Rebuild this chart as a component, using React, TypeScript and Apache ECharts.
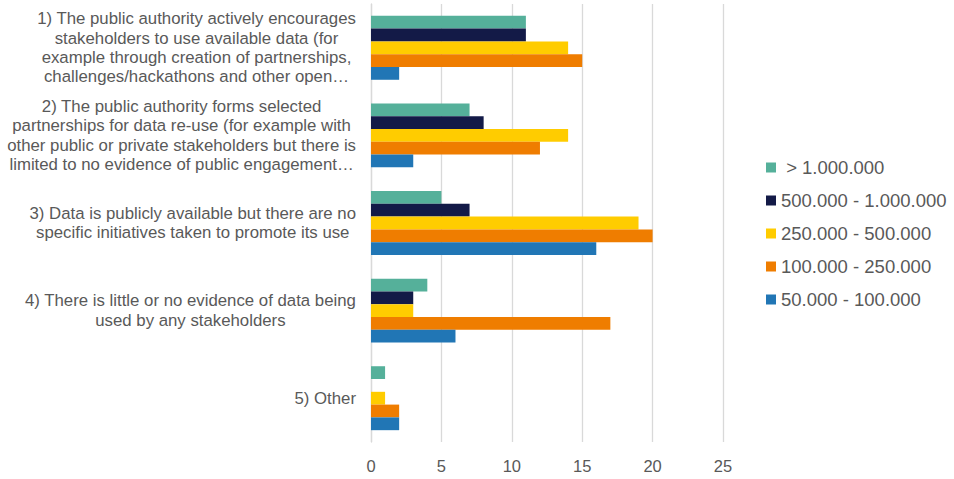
import React, { useEffect, useRef } from "react";
import * as echarts from "echarts";

const categories: string[][] = [
  [
    "1) The public authority actively encourages",
    "stakeholders to use available data (for",
    "example through creation of partnerships,",
    "challenges/hackathons and other open…",
  ],
  [
    "2) The public authority forms selected",
    "partnerships for data re-use (for example with",
    "other public or private stakeholders but there is",
    "limited to no evidence of public engagement…",
  ],
  [
    "3) Data is publicly available but there are no",
    "specific initiatives taken to promote its use",
  ],
  [
    "4) There is little or no evidence of data being",
    "used by any stakeholders",
  ],
  ["5) Other"],
];

const seriesNames = [
  " > 1.000.000",
  "500.000 - 1.000.000",
  "250.000 - 500.000",
  "100.000 - 250.000",
  "50.000 - 100.000",
];
const over1M = [11, 7, 5, 4, 1];
const from500kTo1M = [11, 8, 7, 3, 0];
const from250kTo500k = [14, 14, 19, 3, 1];
const from100kTo250k = [15, 12, 20, 17, 2];
const from50kTo100k = [2, 3, 16, 6, 2];
const seriesValues = [over1M, from500kTo1M, from250kTo500k, from100kTo250k, from50kTo100k];
const colors = ["#55B09A", "#131A47", "#FFCC00", "#EF7D00", "#2176B5"];
const xTicks = [0, 5, 10, 15, 20, 25];

const FONT = "'Liberation Sans', Arial, sans-serif";
const TEXT = "#595959";

export default function App() {
  const ref = useRef<HTMLDivElement>(null);
  useEffect(() => {
    if (!ref.current) return;
    const chart = echarts.init(ref.current, undefined, { renderer: "svg" });
    const catKeys = categories.map((c) => c.join("\n"));
    chart.setOption({
      animation: false,
      backgroundColor: "#ffffff",
      grid: { left: 371, right: 231, top: 4, bottom: 37, containLabel: false },
      legend: {
        orient: "vertical",
        left: 761,
        top: 153,
        itemWidth: 10,
        itemHeight: 10,
        itemGap: 14,
        icon: "rect",
        textStyle: { fontFamily: FONT, fontSize: 18.5, color: TEXT },
        data: seriesNames,
      },
      xAxis: {
        type: "value",
        min: xTicks[0],
        max: xTicks[xTicks.length - 1],
        interval: 5,
        axisLine: { show: false },
        axisTick: { show: false },
        splitLine: { show: true, lineStyle: { color: "#D9D9D9", width: 1.3 } },
        axisLabel: { fontFamily: FONT, fontSize: 16.5, color: TEXT, margin: 15 },
      },
      yAxis: {
        type: "category",
        inverse: true,
        data: catKeys,
        axisLine: { show: true, lineStyle: { color: "#D9D9D9", width: 1.3 } },
        axisTick: { show: false },
        axisLabel: {
          margin: 15,
          align: "right",
          fontFamily: FONT,
          fontSize: 16.8,
          color: TEXT,
          lineHeight: 19.3,
          formatter: (v: string) =>
            v
              .split("\n")
              .map((l) => "{c|" + l + "}")
              .join("\n"),
          rich: {
            c: {
              align: "center",
              fontFamily: FONT,
              fontSize: 16.8,
              color: TEXT,
              lineHeight: 19.3,
            },
          },
        },
      },
      series: seriesNames.map((name, i) => ({
        name,
        type: "bar",
        data: seriesValues[i],
        itemStyle: { color: colors[i] },
        barGap: "0%",
        barCategoryGap: "27%",
      })),
    });
    return () => chart.dispose();
  }, []);
  return (
    <div
      ref={ref}
      style={{ position: "absolute", left: 0, top: 0, width: 954, height: 479 }}
    />
  );
}
